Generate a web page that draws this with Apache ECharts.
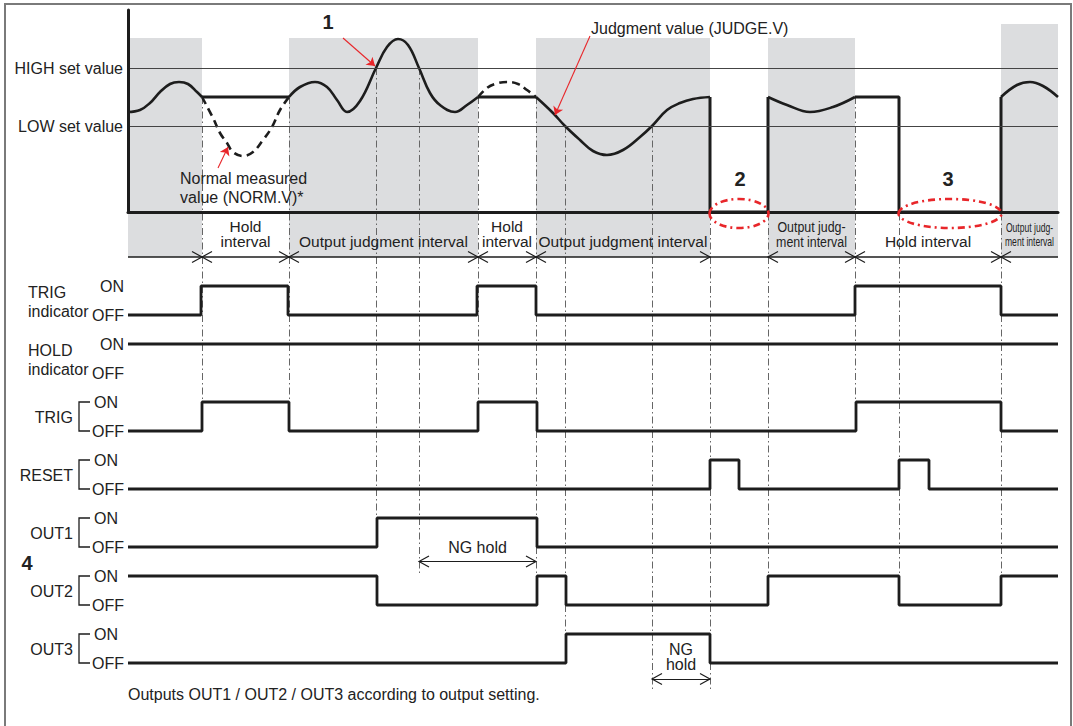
<!DOCTYPE html>
<html>
<head>
<meta charset="utf-8">
<title>Judgment value / hold timing chart</title>
<script src="https://cdn.jsdelivr.net/npm/echarts@6.0.0/dist/echarts.min.js"></script>
<style>
  html, body { margin: 0; padding: 0; background: #fff; }
  #chart { width: 1073px; height: 726px; }
</style>
</head>
<body>
<div id="chart"></div>
<script>
// time runs 0 .. 930 (arbitrary units), analog value 0 .. 101
const T_END = 930;
const HIGH_SET = 72;
const LOW_SET = 43;

// JUDGE.V, smooth parts
const judgeCurve1 = [[0, 50], [12, 51], [22, 54.5], [32, 60], [42, 64], [51, 65], [60, 64], [69, 60], [74, 57.5]];
const judgeCurve2 = [[161, 57.5], [172, 62.5], [187, 65], [199, 62.5], [209, 56], [219, 50], [232, 55.5], [248, 72],
  [259, 82.5], [270, 86.5], [280, 83.5], [291, 72], [302, 59.5], [312, 53.5], [327, 50], [339, 53.5], [350, 57.5]];
const judgeCurve3 = [[408, 57.5], [425, 49.5], [437, 43], [452, 36], [465, 30.5], [479, 28.5], [495, 31], [512, 37.5],
  [524, 43], [539, 51], [552, 54.5], [565, 56.5], [582, 57.5]];
const judgeCurve4 = [[640, 57.5], [659, 53.5], [682, 50], [705, 52.5], [727, 57.5]];
const judgeCurve5 = [[873, 57.5], [889, 63.5], [902, 65], [915, 63], [930, 57.5]];
// JUDGE.V, held and reset parts
const judgeHold1 = [[74, 57.5], [161, 57.5]];
const judgeHold2 = [[350, 57.5], [408, 57.5]];
const judgeReset1 = [[582, 57.5], [582, 0], [640, 0], [640, 57.5]];
const judgeHold3 = [[727, 57.5], [771, 57.5], [771, 0], [873, 0], [873, 57.5]];
// NORM.V while the judgment value is held
const normHold1 = [[74, 57.5], [85, 47], [92, 39.5], [99, 34.5], [105, 30], [115, 28], [125, 30], [135, 36], [144, 42.5], [152, 51], [161, 57.5]];
const normHold2 = [[350, 57.5], [359, 62], [367, 64], [379, 65], [390, 64], [399, 61], [408, 57.5]];

// intervals
const intervalStart = [0, 74, 161, 350, 408, 582, 640, 727, 873];
const intervalEnd = [74, 161, 350, 408, 582, 640, 727, 873, 930];
const intervalKind = ['judge', 'hold', 'judge', 'hold', 'judge', 'none', 'judge', 'hold', 'judge'];
const intervalLabel = ['', 'Hold\ninterval', 'Output judgment interval', 'Hold\ninterval', 'Output judgment interval', '',
  'Output judg-\nment interval', 'Hold interval', 'Output judg-\nment interval'];

// digital signals (1 = ON), toggle times
const signalNames = ['TRIG indicator', 'HOLD indicator', 'TRIG', 'RESET', 'OUT1', 'OUT2', 'OUT3'];
const signalStart = [0, 1, 0, 0, 0, 1, 0];
const trigIndicatorEdges = [73, 160, 349, 408, 727, 873];
const holdIndicatorEdges = [];
const trigEdges = [74, 161, 350, 409, 728, 873];
const resetEdges = [582, 611, 771, 801];
const out1Edges = [249, 409];
const out2Edges = [249, 409, 438, 640, 771, 873];
const out3Edges = [438, 582];

// dash-dot guides: time, analog start value (null = none), digital level where it stops
const guideTimes = [74, 161, 248, 291, 350, 408, 437, 524, 582, 640, 727, 771, 873];
const guideTop = [57.5, 57.5, HIGH_SET, HIGH_SET, 57.5, 57.5, LOW_SET, LOW_SET, null, null, 57.5, null, null];
const guideBottom = [4, 4, 8, 10, 4, 10, 12, 14, 14, 10, 4, 10, 10];

// NG hold spans
const ngHoldFrom = [291, 524];
const ngHoldTo = [408, 582];

// ---------------------------------------------------------------
const FONT = "'Liberation Sans', Arial, Helvetica, sans-serif";
const INK = '#1d1d1d';
const TXT = '#222';
const SHADE = '#dcdddf';
const RED = '#e8262a';
const FS = 16;

const chart = echarts.init(document.getElementById('chart'), null, { renderer: 'svg' });

function stepData(row, start, edges) {
  const y = l => (l ? 2 * row : 2 * row + 1);
  let lvl = start;
  const pts = [[0, y(lvl)]];
  edges.forEach(t => { lvl = 1 - lvl; pts.push([t, y(lvl)]); });
  pts.push([T_END, y(lvl)]);
  return pts;
}

function textSeries(grid, notes) {
  return {
    type: 'custom', xAxisIndex: grid, yAxisIndex: grid, z: 6, silent: true,
    data: notes.map(n => [n.t, n.y]),
    renderItem(params, api) {
      const n = notes[params.dataIndex];
      const p = api.coord([api.value(0), api.value(1)]);
      return {
        type: 'text', x: p[0], y: p[1], scaleX: n.scaleX || 1,
        style: {
          text: n.text, fill: TXT, fontFamily: FONT, fontSize: n.size || FS,
          fontWeight: n.bold ? 'bold' : 'normal', align: n.align || 'center',
          verticalAlign: 'middle', lineHeight: n.lh || 15
        }
      };
    }
  };
}

const series = [];

// shaded output-judgment intervals
const judgeIdx = intervalKind.map((k, i) => i).filter(i => intervalKind[i] === 'judge');
const shadeTop = i => (i === intervalKind.length - 1 ? 94 : 87);

// analog curves
[judgeCurve1, judgeCurve2, judgeCurve3, judgeCurve4, judgeCurve5].forEach((seg, k) => {
  const s = {
    type: 'line', xAxisIndex: 0, yAxisIndex: 0, data: seg, smooth: 0.4, symbol: 'none', z: 4,
    lineStyle: { color: INK, width: 2.6 }
  };
  if (k === 0) {
    s.markArea = {
      silent: true, z: 0, itemStyle: { color: SHADE },
      data: judgeIdx.map(i => [{ xAxis: intervalStart[i], yAxis: 0 }, { xAxis: intervalEnd[i], yAxis: shadeTop(i) }])
    };
    s.markLine = {
      silent: true, symbol: 'none', animation: false,
      lineStyle: { color: '#444', width: 1.2, type: 'solid' },
      label: { show: true, position: 'start', distance: 5, color: TXT, fontFamily: FONT, fontSize: FS },
      data: [
        { yAxis: HIGH_SET, label: { formatter: 'HIGH set value' } },
        { yAxis: LOW_SET, label: { formatter: 'LOW set value' } }
      ]
    };
  }
  series.push(s);
});
[judgeHold1, judgeHold2, judgeReset1, judgeHold3].forEach(seg => series.push({
  type: 'line', xAxisIndex: 0, yAxisIndex: 0, data: seg, symbol: 'none', z: 4,
  lineStyle: { color: INK, width: 3 }
}));
[normHold1, normHold2].forEach(seg => series.push({
  type: 'line', xAxisIndex: 0, yAxisIndex: 0, data: seg, smooth: 0.4, symbol: 'none', z: 4,
  lineStyle: { color: INK, width: 2.6, type: [8, 5] }
}));

// guides
const guideStyle = { color: '#666', width: 1, type: [7, 3, 1.5, 3], opacity: 1 };
series.push({
  type: 'lines', coordinateSystem: 'cartesian2d', xAxisIndex: 0, yAxisIndex: 0, silent: true, z: 2,
  lineStyle: guideStyle,
  data: guideTimes.map((t, i) => (guideTop[i] == null ? null : { coords: [[t, guideTop[i]], [t, 0]] })).filter(Boolean)
});
series.push({
  type: 'lines', coordinateSystem: 'cartesian2d', xAxisIndex: 1, yAxisIndex: 1, silent: true, z: 2,
  lineStyle: guideStyle,
  data: guideTimes.map((t, i) => ({ coords: [[t, -2.5], [t, guideBottom[i]]] }))
});

// red pointers
series.push({
  type: 'lines', coordinateSystem: 'cartesian2d', xAxisIndex: 0, yAxisIndex: 0, silent: true, z: 5,
  symbol: ['none', 'arrow'], symbolSize: 8,
  lineStyle: { color: RED, width: 1.1, opacity: 1 },
  data: [
    { coords: [[215, 87], [247, 73]] },
    { coords: [[462, 88], [427, 48.5]] },
    { coords: [[90, 22], [100, 32.5]] }
  ]
});

// red dash-dot ellipses over the zero periods of JUDGE.V
series.push({
  type: 'custom', xAxisIndex: 0, yAxisIndex: 0, silent: true, z: 12,
  data: [[582, 640], [771, 873]],
  renderItem(params, api) {
    const a = api.coord([api.value(0), 0]);
    const b = api.coord([api.value(1), 0]);
    return {
      type: 'ellipse',
      shape: { cx: (a[0] + b[0]) / 2, cy: a[1] + 1.5, rx: (b[0] - a[0]) / 2 + 0.5, ry: 14.5 },
      style: { fill: 'none', stroke: RED, lineWidth: 2.6, lineDash: [7, 4, 2, 4] }
    };
  }
});

series.push(textSeries(0, [
  { t: 200, y: 95, text: '1', size: 20, bold: true },
  { t: 463, y: 92, text: 'Judgment value (JUDGE.V)', align: 'left' },
  { t: 52, y: 12.25, text: 'Normal measured\nvalue (NORM.V)*', align: 'left', lh: 19 },
  { t: 612, y: 16.5, text: '2', size: 20, bold: true },
  { t: 820, y: 16.5, text: '3', size: 20, bold: true }
]));

// digital signals
const signalEdges = [trigIndicatorEdges, holdIndicatorEdges, trigEdges, resetEdges, out1Edges, out2Edges, out3Edges];
signalEdges.forEach((edges, row) => {
  const s = {
    type: 'line', xAxisIndex: 1, yAxisIndex: 1, step: 'end', symbol: 'none', z: 4,
    data: stepData(row, signalStart[row], edges),
    lineStyle: { color: INK, width: 2.8 }
  };
  if (row === 0) {
    s.markArea = {
      silent: true, z: 0, itemStyle: { color: SHADE },
      data: judgeIdx.map(i => [{ xAxis: intervalStart[i], yAxis: -2.5 }, { xAxis: intervalEnd[i], yAxis: -1 }])
    };
  }
  series.push(s);
});

// interval baseline and NG hold shafts
series.push({
  type: 'lines', coordinateSystem: 'cartesian2d', xAxisIndex: 1, yAxisIndex: 1, silent: true, z: 4,
  lineStyle: { color: INK, width: 1.2, opacity: 1 },
  data: [
    { coords: [[ngHoldFrom[0], 9.5], [ngHoldTo[0], 9.5]] },
    { coords: [[ngHoldFrom[1], 13.55], [ngHoldTo[1], 13.55]] }
  ],
  markLine: {
    silent: true, symbol: 'none', label: { show: false },
    lineStyle: { color: INK, width: 1.5, type: 'solid' },
    data: [{ yAxis: -1 }]
  }
});

// chevrons
const heads = [];
intervalStart.forEach((s, i) => {
  if (intervalKind[i] === 'none') return;
  if (s > 0) heads.push([s, -1, -1]);
  if (intervalEnd[i] < T_END) heads.push([intervalEnd[i], -1, 1]);
});
[9.5, 13.55].forEach((y, k) => {
  heads.push([ngHoldFrom[k], y, -1]);
  heads.push([ngHoldTo[k], y, 1]);
});
series.push({
  type: 'custom', xAxisIndex: 1, yAxisIndex: 1, silent: true, z: 5,
  data: heads,
  renderItem(params, api) {
    const p = api.coord([api.value(0), api.value(1)]);
    const d = api.value(2);
    return {
      type: 'polyline',
      shape: { points: [[p[0] - d * 10, p[1] - 5.5], [p[0], p[1]], [p[0] - d * 10, p[1] + 5.5]] },
      style: { fill: 'none', stroke: INK, lineWidth: 1.2 }
    };
  }
});

// interval labels, NG hold, footnote
const labelStyle = { 6: { size: 15.5, scaleX: 0.8 }, 8: { size: 13, scaleX: 0.66, lh: 14 } };
const digitalNotes = [];
intervalLabel.forEach((txt, i) => {
  if (!txt) return;
  const two = txt.indexOf('\n') >= 0;
  digitalNotes.push(Object.assign({
    t: (intervalStart[i] + intervalEnd[i]) / 2, y: two ? -1.78 : -1.52, text: txt, size: 15.5
  }, labelStyle[i] || {}));
});
digitalNotes.push({ t: (ngHoldFrom[0] + ngHoldTo[0]) / 2, y: 9.03, text: 'NG hold' });
digitalNotes.push({ t: (ngHoldFrom[1] + ngHoldTo[1]) / 2, y: 12.81, text: 'NG\nhold' });
digitalNotes.push({ t: 0, y: 14.07, text: 'Outputs OUT1 / OUT2 / OUT3 according to output setting.', align: 'left' });
digitalNotes.push({ t: -101, y: 9.55, text: '4', size: 20, bold: true });
series.push(textSeries(1, digitalNotes));

// signal names and brackets
series.push({
  type: 'custom', xAxisIndex: 1, yAxisIndex: 1, silent: true, z: 6,
  data: signalNames.map((n, i) => [0, 2 * i]),
  renderItem(params, api) {
    const i = params.dataIndex;
    const name = signalNames[i];
    const on = api.coord([0, 2 * i]);
    const off = api.coord([0, 2 * i + 1]);
    const x0 = on[0];
    const mid = (on[1] + off[1]) / 2;
    const font = { fill: TXT, fontFamily: FONT, fontSize: FS, verticalAlign: 'middle' };
    if (name.indexOf('indicator') >= 0) {
      return {
        type: 'text', x: x0 - 100, y: mid + 1.5,
        style: Object.assign({ text: name.replace(' ', '\n'), align: 'left', lineHeight: 19 }, font)
      };
    }
    return {
      type: 'group',
      children: [
        { type: 'text', x: x0 - 55, y: mid + 1, style: Object.assign({ text: name, align: 'right' }, font) },
        {
          type: 'polyline',
          shape: { points: [[x0 - 38, on[1]], [x0 - 49, on[1]], [x0 - 49, off[1]], [x0 - 38, off[1]]] },
          style: { fill: 'none', stroke: INK, lineWidth: 1.3 }
        }
      ]
    };
  }
});

const option = {
  animation: false,
  backgroundColor: '#fff',
  textStyle: { fontFamily: FONT },
  graphic: [{
    type: 'rect', silent: true, z: 100,
    shape: { x: 5, y: 4, width: 1066, height: 740 },
    style: { fill: 'none', stroke: '#7a7a7a', lineWidth: 2 }
  }],
  grid: [
    { left: 128, top: 10, width: 930, height: 202 },
    { left: 128, top: 199, width: 930, height: 522 }
  ],
  xAxis: [
    {
      gridIndex: 0, type: 'value', min: 0, max: T_END, z: 10,
      axisLine: { show: true, lineStyle: { color: INK, width: 3 } },
      axisTick: { show: false }, axisLabel: { show: false }, splitLine: { show: false }
    },
    { gridIndex: 1, type: 'value', min: 0, max: T_END, show: false }
  ],
  yAxis: [
    {
      gridIndex: 0, type: 'value', min: 0, max: 101, z: 10,
      axisLine: { show: true, lineStyle: { color: INK, width: 3 } },
      axisTick: { show: false }, axisLabel: { show: false }, splitLine: { show: false }
    },
    {
      gridIndex: 1, type: 'value', min: -3, max: 15, interval: 1, inverse: true,
      axisLine: { show: false }, axisTick: { show: false }, splitLine: { show: false },
      axisLabel: {
        margin: 4, color: TXT, fontFamily: FONT, fontSize: FS,
        formatter(v) {
          if (v < 0 || v > 13) return '';
          const row = Math.floor(v / 2);
          const on = v % 2 === 0;
          if (on && signalNames[row].indexOf('indicator') < 0) return '{pad|ON}';
          return on ? 'ON' : 'OFF';
        },
        rich: { pad: { padding: [0, 6, 0, 0], color: TXT, fontFamily: FONT, fontSize: FS } }
      }
    }
  ],
  series: series
};

chart.setOption(option);
</script>
</body>
</html>
